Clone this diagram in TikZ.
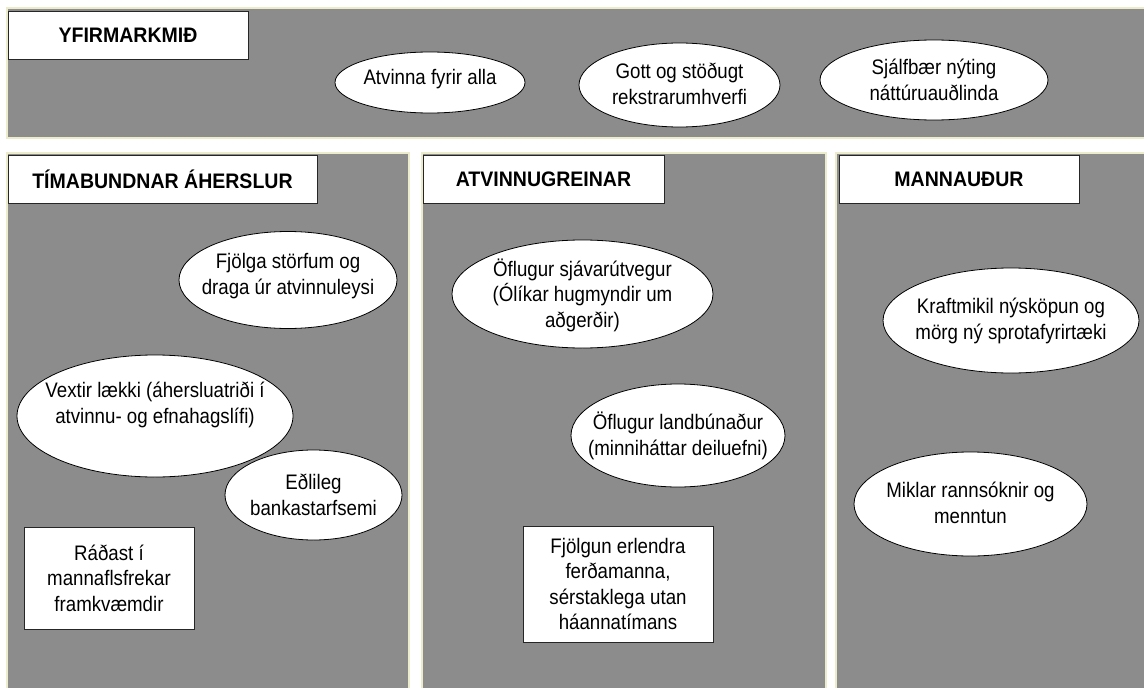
\documentclass[tikz,border=0pt]{standalone}
\usepackage{fontspec}
\setmainfont{Liberation Sans}[FakeStretch=0.89, BoldFeatures={FakeStretch=0.93}]
\usetikzlibrary{shapes.geometric}
\definecolor{panelgrey}{RGB}{140,140,140}
\definecolor{paneledge}{RGB}{236,236,204}
\begin{document}
\begin{tikzpicture}[x=1pt,y=-1pt,
  panel/.style={fill=panelgrey, draw=paneledge, line width=1.2pt},
  head/.style={draw=black!85, fill=white, line width=0.8pt, inner sep=0pt,
    font=\fontsize{21}{24}\selectfont\bfseries},
  ell/.style={ellipse, draw=black, fill=white, line width=0.8pt, inner sep=0pt},
  txt/.style={align=center, inner sep=0pt, font=\fontsize{21}{25.5}\selectfont},
  rbox/.style={draw=black!85, fill=white, line width=0.8pt, inner sep=0pt,
    align=center, font=\fontsize{21}{25.5}\selectfont}]
\useasboundingbox (0,0) rectangle (1144,688);
\fill[white] (0,0) rectangle (1144,688);
% panels
\draw[panel] (7,8) rectangle (1160,138);
\draw[panel] (7,153) rectangle (409,700);
\draw[panel] (422,153) rectangle (826,700);
\draw[panel] (836,153) rectangle (1160,700);
% headers
\node[head, minimum width=240, minimum height=48] (h0) at (128,35) {YFIRMARKMIÐ};
\node[head, minimum width=309, minimum height=48] (h1) at (162.5,179) {TÍMABUNDNAR ÁHERSLUR};
\node[head, minimum width=241, minimum height=48] (h2) at (543.5,179) {ATVINNUGREINAR};
\node[head, minimum width=240, minimum height=48] (h3) at (959,179) {MANNAUÐUR};
% top ellipses
\node[ell, minimum width=190, minimum height=61] (e1) at (430,82.5) {};
\node[txt] (t1) at (430,79) {Atvinna fyrir alla};
\node[ell, minimum width=201, minimum height=84] (e2) at (679.5,85) {};
\node[txt] (t2) at (679.5,84) {Gott og stöðugt\\rekstrarumhverfi};
\node[ell, minimum width=228, minimum height=80] (e3) at (934,80) {};
\node[txt] (t3) at (934,80) {Sjálfbær nýting\\náttúruauðlinda};
% left panel
\node[ell, minimum width=218, minimum height=97] (e4) at (288,280) {};
\node[txt] (t4) at (288,276) {Fjölga störfum og\\draga úr atvinnuleysi};
\node[ell, minimum width=276, minimum height=122] (e5) at (155,416) {};
\node[txt] (t5) at (155,405) {Vextir lækki (áhersluatriði í\\atvinnu- og efnahagslífi)};
\node[ell, minimum width=177, minimum height=90] (e6) at (313.5,495) {};
\node[txt] (t6) at (313.5,495) {Eðlileg\\bankastarfsemi};
\node[rbox, minimum width=170, minimum height=102] (r1) at (109,578) {Ráðast í\\mannaflsfrekar\\framkvæmdir};
% middle panel
\node[ell, minimum width=261, minimum height=108] (e7) at (582.5,294) {};
\node[txt] (t7) at (582.5,295) {Öflugur sjávarútvegur\\(Ólíkar hugmyndir um\\aðgerðir)};
\node[ell, minimum width=214, minimum height=103] (e8) at (678,435.5) {};
\node[txt] (t8) at (678,436) {Öflugur landbúnaður\\(minniháttar deiluefni)};
\node[rbox, minimum width=190, minimum height=116] (r2) at (618,584) {Fjölgun erlendra\\ferðamanna,\\sérstaklega utan\\háannatímans};
% right panel
\node[ell, minimum width=256, minimum height=105] (e9) at (1011,320.5) {};
\node[txt] (t9) at (1011,321) {Kraftmikil nýsköpun og\\mörg ný sprotafyrirtæki};
\node[ell, minimum width=233, minimum height=104] (e10) at (970.5,504) {};
\node[txt] (t10) at (970.5,503) {Miklar rannsóknir og\\menntun};
\end{tikzpicture}
\end{document}
